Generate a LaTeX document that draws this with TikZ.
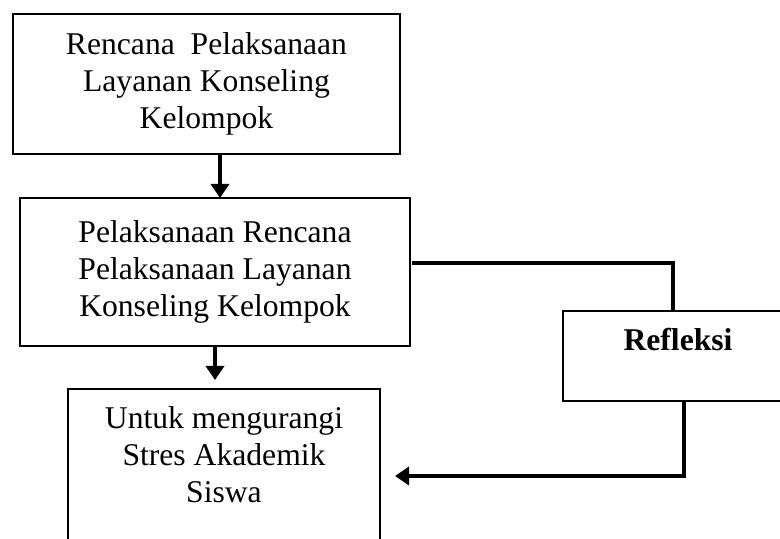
\documentclass[tikz,border=0pt]{standalone}
\usepackage{fontspec}
\setmainfont{Liberation Serif}
\usepackage{tikz}
\usetikzlibrary{arrows.meta}

\tikzset{
	box/.style={draw, line width=1.1pt, align=center, outer sep=0pt, font=\fontsize{18}{21}\selectfont},
	link/.style={line width=2pt},
	linkarrow/.style={link, -{Triangle[length=0.28cm, width=0.36cm]}}
}

\begin{document}
\begin{tikzpicture}
	\useasboundingbox (0,0) rectangle (15.6,10.78);
	\clip (0,0) rectangle (15.6,10.78);
	\node[box, minimum width=7.74cm, minimum height=2.8cm] (rencana) at (4.13,9.10) {Rencana\ \ Pelaksanaan\\Layanan Konseling\\Kelompok};
	\node[box, minimum width=7.8cm, minimum height=2.96cm] (pelaksanaan) at (4.30,5.34) {Pelaksanaan Rencana\\Pelaksanaan Layanan\\Konseling Kelompok};
	\node[box, anchor=north, minimum width=4.6cm, inner ysep=0.3cm, text height=0.5cm, text depth=0.7cm] (refleksi) at (13.56,4.56) {\textbf{Refleksi}};
	\node[box, anchor=north, minimum width=6.24cm, inner ysep=0.35cm, text depth=4cm] (siswa) at (4.48,3.0) {Untuk mengurangi\\Stres Akademik\\Siswa};
	\draw[linkarrow] ([xshift=0.27cm]rencana.south) -- ([xshift=0.27cm]rencana.south |- pelaksanaan.north);
	\draw[linkarrow] (pelaksanaan.south) -- ([yshift=0.18cm]pelaksanaan.south |- siswa.north);
	\draw[link] ([xshift=0.04cm, yshift=0.18cm]pelaksanaan.east) -| ([xshift=-0.1cm]refleksi.north);
	\draw[linkarrow] ([xshift=0.12cm]refleksi.south) |- ([xshift=0.3cm, yshift=-1.74cm]siswa.north east);
\end{tikzpicture}
\end{document}
